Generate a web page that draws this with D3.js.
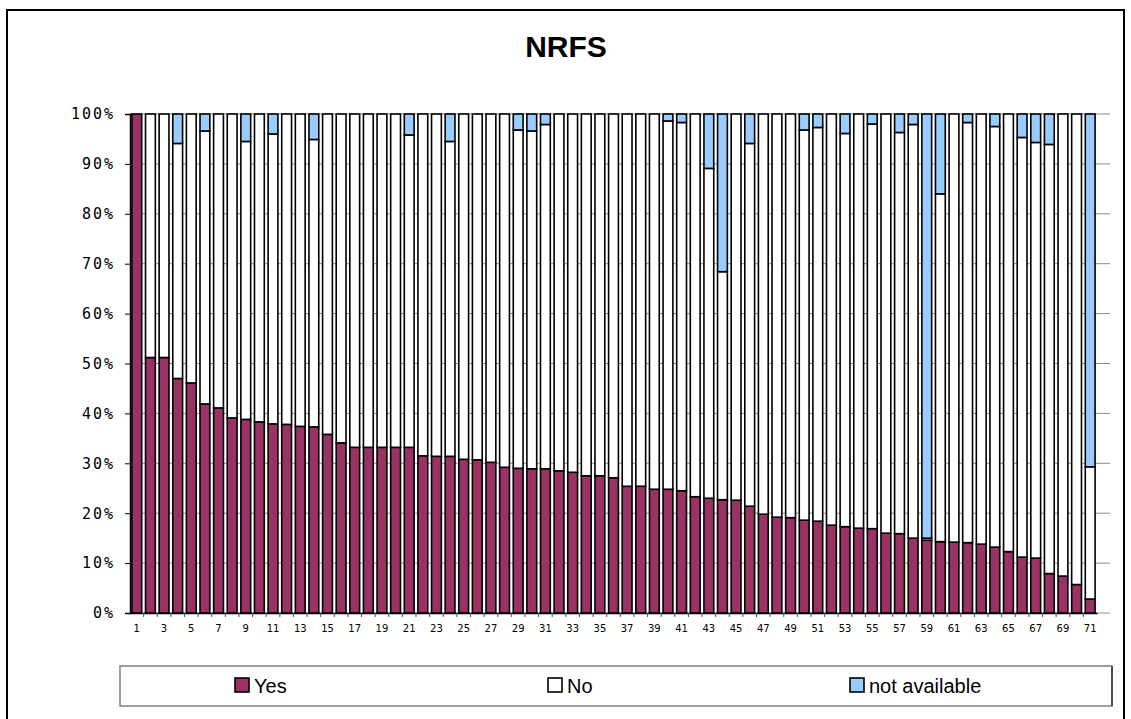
<!DOCTYPE html>
<html>
<head>
<meta charset="utf-8">
<script src="https://cdn.jsdelivr.net/npm/d3@7"></script>
<style>
  body { margin: 0; background: #fff; }
  svg { display: block; }
</style>
</head>
<body>
<svg width="1131" height="719"></svg>
<script>
// chart data (percent of each bar)
const categories = d3.range(1, 72).map(String);
const yesValues = [100, 51.2, 51.2, 47.0, 46.1, 41.9, 41.1, 39.1, 38.8, 38.3,
    37.9, 37.8, 37.4, 37.3, 35.8, 34.1, 33.2, 33.2, 33.2, 33.2,
    33.2, 31.5, 31.4, 31.4, 30.8, 30.7, 30.2, 29.2, 29.0, 28.9,
    28.9, 28.5, 28.2, 27.5, 27.5, 27.1, 25.4, 25.4, 24.8, 24.8,
    24.5, 23.3, 23.0, 22.7, 22.6, 21.4, 19.8, 19.2, 19.1, 18.6,
    18.4, 17.6, 17.3, 17.0, 16.9, 16.0, 15.9, 15.0, 14.6, 14.3,
    14.2, 14.1, 13.8, 13.2, 12.3, 11.2, 11.0, 7.9, 7.4, 5.7,
    2.8];
const noValues = [0, 48.8, 48.8, 47.1, 53.9, 54.7, 58.9, 60.9, 55.7, 61.7,
    58.1, 62.2, 62.6, 57.6, 64.2, 65.9, 66.8, 66.8, 66.8, 66.8,
    62.6, 68.5, 68.6, 63.1, 69.2, 69.3, 69.8, 70.8, 67.8, 67.7,
    69.0, 71.5, 71.8, 72.5, 72.5, 72.9, 74.6, 74.6, 75.2, 73.8,
    73.8, 76.7, 66.1, 45.7, 77.4, 72.7, 80.2, 80.8, 80.9, 78.2,
    78.9, 82.4, 78.8, 83.0, 81.1, 84.0, 80.4, 82.9, 0.4, 69.7,
    85.8, 84.2, 86.2, 84.3, 87.7, 84.1, 83.3, 86.0, 92.6, 94.3,
    26.5];
const naValues = [0, 0, 0, 5.9, 0, 3.4, 0, 0, 5.5, 0,
    4.0, 0, 0, 5.1, 0, 0, 0, 0, 0, 0,
    4.2, 0, 0, 5.5, 0, 0, 0, 0, 3.2, 3.4,
    2.1, 0, 0, 0, 0, 0, 0, 0, 0, 1.4,
    1.7, 0, 10.9, 31.6, 0, 5.9, 0, 0, 0, 3.2,
    2.7, 0, 3.9, 0, 2.0, 0, 3.7, 2.1, 85.0, 16.0,
    0, 1.7, 0, 2.5, 0, 4.7, 5.7, 6.1, 0, 0,
    70.7];
const yTicks = [0, 10, 20, 30, 40, 50, 60, 70, 80, 90, 100];
const seriesNames = ['Yes', 'No', 'not available'];
const seriesColors = ['#993366', '#ffffff', '#99ccff'];

const svg = d3.select('svg');
const plotLeft = 130;
const plotRight = 1097;
const plotTop = 114;
const plotBottom = 613;

// outer frame
svg.append('rect').
    attr('x', 7).attr('y', 10).
    attr('width', 1117).attr('height', 740).
    attr('fill', 'none').
    attr('stroke', '#000').
    attr('stroke-width', 2);

svg.append('text').
    attr('x', 566).attr('y', 57).
    attr('text-anchor', 'middle').
    style('font-family', '"Liberation Sans", Arial, sans-serif').
    style('font-weight', 'bold').
    style('font-size', '30px').
    text('NRFS');

const x = d3.scaleBand().domain(categories).range([plotLeft, plotRight]).paddingInner(0.28).paddingOuter(0.14);
const y = d3.scaleLinear().domain([0, 100]).range([plotBottom, plotTop]);

// gridlines
svg.append('g').selectAll('line').data(yTicks).join('line').
    attr('x1', plotLeft).attr('x2', 1110).
    attr('y1', d => y(d)).attr('y2', d => y(d)).
    attr('stroke', '#8c8c8c').
    attr('stroke-width', 1);

// stack the three series
const rows = categories.map((c, i) => ({ cat: c, Yes: yesValues[i], No: noValues[i], 'not available': naValues[i] }));
const stacked = d3.stack().keys(seriesNames)(rows);

svg.append('g').selectAll('g').data(stacked).join('g').
    attr('fill', (d, i) => seriesColors[i]).
    selectAll('rect').data(d => d.filter(s => s[1] - s[0] > 0)).join('rect').
    attr('x', d => x(d.data.cat)).
    attr('width', x.bandwidth()).
    attr('y', d => y(d[1])).
    attr('height', d => y(d[0]) - y(d[1])).
    attr('stroke', '#000').
    attr('stroke-width', 1.6);

// y axis
const yAxis = svg.append('g').
    attr('transform', 'translate(' + plotLeft + ',0)').
    call(d3.axisLeft(y).tickValues(yTicks).tickSize(5).tickPadding(10).tickFormat(d => d + '%'));
yAxis.select('.domain').attr('stroke', '#000').attr('stroke-width', 1.5);
yAxis.selectAll('.tick line').attr('stroke', '#000');
yAxis.selectAll('text').
    style('font-family', '"DejaVu Sans Mono", monospace').
    style('font-size', '15px').
    style('letter-spacing', '2px').
    attr('fill', '#000');

// x axis, every other label
const xAxis = svg.append('g').
    attr('transform', 'translate(0,' + plotBottom + ')').
    call(d3.axisBottom(x).tickSize(0).tickPadding(12).tickFormat((d, i) => i % 2 == 0 ? d : ''));
xAxis.select('.domain').attr('stroke', '#000').attr('stroke-width', 1.5);
xAxis.selectAll('text').
    style('font-family', '"DejaVu Sans", sans-serif').
    style('font-size', '10px').
    attr('fill', '#000');

// small ticks between categories
svg.append('g').selectAll('line').data(categories.slice(1)).join('line').
    attr('x1', d => x(d) - x.step() * x.paddingInner() / 2).
    attr('x2', d => x(d) - x.step() * x.paddingInner() / 2).
    attr('y1', plotBottom).attr('y2', plotBottom + 4).
    attr('stroke', '#555');

// legend
svg.append('rect').
    attr('x', 120).attr('y', 666).
    attr('width', 992).attr('height', 40).
    attr('fill', '#fff').
    attr('stroke', '#808080').
    attr('stroke-width', 1.5);
svg.append('line').
    attr('x1', 1112).attr('x2', 1112).
    attr('y1', 666).attr('y2', 706).
    attr('stroke', '#000');

const legendX = [235, 548, 850];
const legend = svg.append('g').selectAll('g').data(seriesNames).join('g').
    attr('transform', (d, i) => 'translate(' + legendX[i] + ',678)');
legend.append('rect').
    attr('width', 14).attr('height', 14).
    attr('fill', (d, i) => seriesColors[i]).
    attr('stroke', '#000').
    attr('stroke-width', 1.6);
legend.append('text').
    attr('x', 19).attr('y', 15).
    style('font-family', '"Liberation Sans", Arial, sans-serif').
    style('font-size', '20px').
    text(d => d);
</script>
</body>
</html>
